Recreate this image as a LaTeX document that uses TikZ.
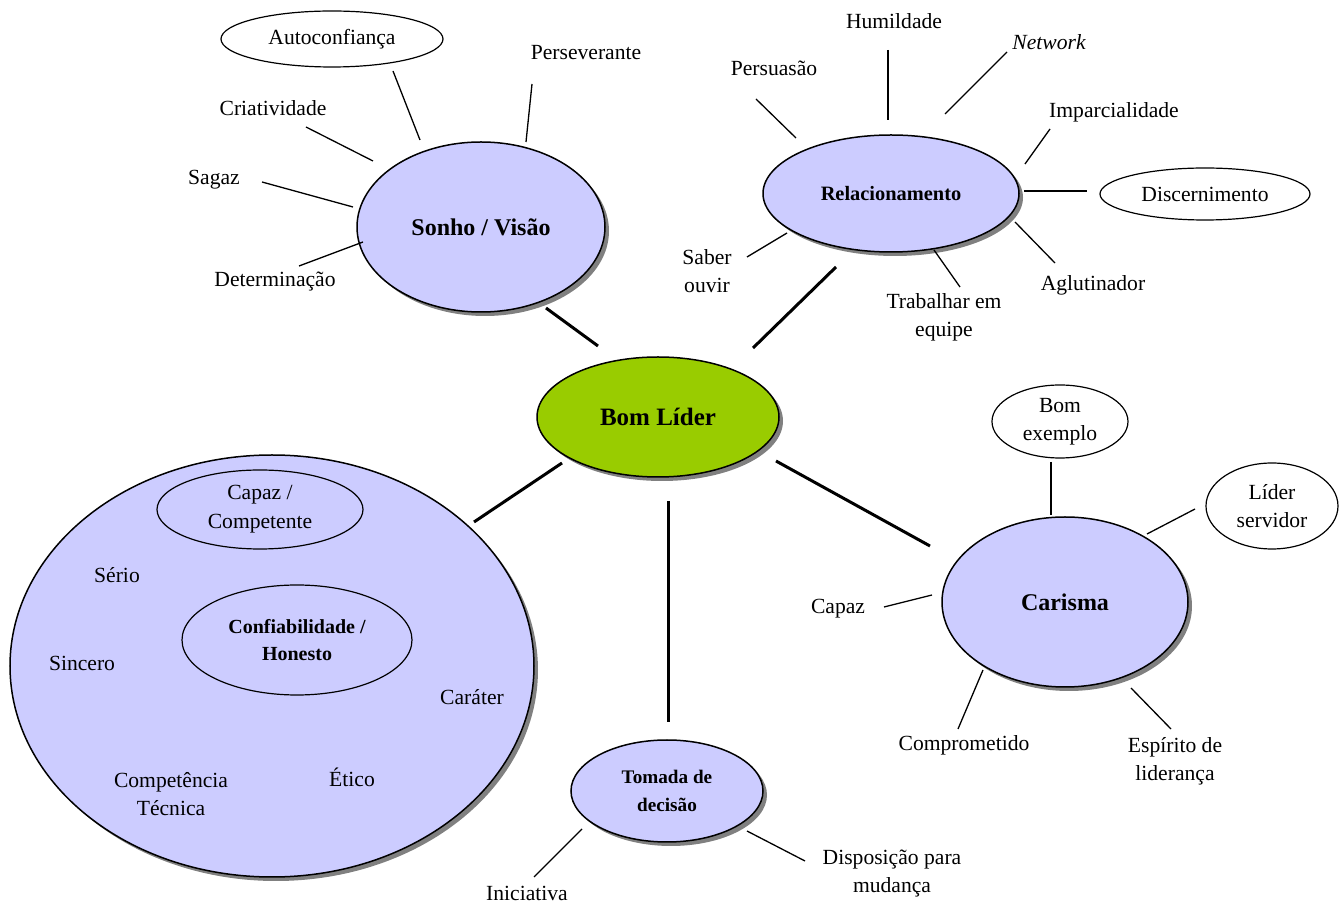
\documentclass[tikz,border=0pt]{standalone}
\usepackage{fontspec}
\setmainfont{Liberation Serif}
\usetikzlibrary{shapes.geometric,shadows}
\definecolor{lav}{HTML}{CCCCFF}
\definecolor{bomgreen}{HTML}{99CC00}
\begin{document}
\begin{tikzpicture}[x=0.5pt,y=-0.5pt,
  mainell/.style={ellipse, draw=black, line width=0.75pt, fill=lav, inner sep=0pt, align=center,
    drop shadow={shadow xshift=2pt, shadow yshift=-2pt, fill=black!50, opacity=1}},
  subell/.style={ellipse, draw=black, line width=0.6pt, fill=white, inner sep=0pt, align=center,
    font=\fontsize{10.8}{14}\selectfont},
  innerell/.style={ellipse, draw=black, line width=0.6pt, fill=lav, inner sep=0pt, align=center},
  lbl/.style={inner sep=0pt, align=center, font=\fontsize{10.8}{14}\selectfont},
  twig/.style={line width=0.65pt},
  limb/.style={line width=1.5pt},
]
\useasboundingbox (0,0) rectangle (1341,903);

% main ellipses
\node[mainell, fill=bomgreen, minimum width=121pt, minimum height=60pt,
  font=\fontsize{12.5}{15}\selectfont\bfseries] (bom) at (658,417) {Bom Líder};
\node[mainell, minimum width=124pt, minimum height=85pt,
  font=\fontsize{12}{15}\selectfont\bfseries] (sonho) at (481,227) {Sonho / Visão};
\node[mainell, minimum width=128pt, minimum height=58.5pt,
  font=\fontsize{10.2}{14}\selectfont\bfseries] (rel) at (891,193.5) {Relacionamento};
\node[mainell, minimum width=123pt, minimum height=85pt,
  font=\fontsize{12}{15}\selectfont\bfseries] (car) at (1065,602) {Carisma};
\node[mainell, minimum width=96pt, minimum height=51pt,
  font=\fontsize{9.6}{14}\selectfont\bfseries] (tom) at (667,791) {Tomada de\\decisão};
\node[mainell, minimum width=262pt, minimum height=211pt] (big) at (272,666) {};

% inner ellipses of the big one
\node[innerell, minimum width=103pt, minimum height=39.5pt,
  font=\fontsize{10.8}{14.5}\selectfont] (cap) at (260,509.5) {Capaz /\\Competente};
\node[innerell, minimum width=115pt, minimum height=55pt,
  font=\fontsize{10}{13.5}\selectfont\bfseries] (conf) at (297,640) {Confiabilidade /\\Honesto};
\node[lbl] (serio) at (117,575) {Sério};
\node[lbl] (sincero) at (82,663) {Sincero};
\node[lbl] (carater) at (472,697) {Caráter};
\node[lbl] (comptec) at (171,794) {Competência\\Técnica};
\node[lbl] (etico) at (352,777) {Ético};

% white ellipses
\node[subell, minimum width=111pt, minimum height=28pt] (auto) at (332,39) {Autoconfiança};
\node[subell, minimum width=105pt, minimum height=26pt] (disc) at (1205,194) {Discernimento};
\node[subell, minimum width=68pt, minimum height=36.5pt] (bomex) at (1060,421.5) {Bom\\exemplo};
\node[subell, minimum width=66pt, minimum height=43pt] (lider) at (1272,506) {Líder\\servidor};

% labels
\node[lbl] (persev) at (586,53) {Perseverante};
\node[lbl] (criat) at (273,108) {Criatividade};
\node[lbl] (sagaz) at (214,180) {Sagaz};
\node[lbl] (determ) at (275,282) {Determinação};
\node[lbl] (humil) at (894,21) {Humildade};
\node[lbl] (netw) at (1049,42) {\itshape Network};
\node[lbl] (persua) at (774,68) {Persuasão};
\node[lbl] (impar) at (1114,112) {Imparcialidade};
\node[lbl] (aglut) at (1093,285) {Aglutinador};
\node[lbl] (trab) at (944,317.5) {Trabalhar em\\equipe};
\node[lbl] (saber) at (707,271.5) {Saber\\ouvir};
\node[lbl] (capaz) at (838,609) {Capaz};
\node[lbl] (compr) at (964,745) {Comprometido};
\node[lbl] (espir) at (1175,761.5) {Espírito de\\liderança};
\node[lbl] (inic) at (527,893) {Iniciativa};
\node[lbl] (dispo) at (892,874) {Disposição para\\mudança};

% connector end points
\coordinate (sbA) at (546,308); \coordinate (sbB) at (598,346);
\coordinate (rbA) at (836,267); \coordinate (rbB) at (753,348);
\coordinate (bgA) at (562,463); \coordinate (bgB) at (474,522);
\coordinate (btA) at (668,501); \coordinate (btB) at (668,722);
\coordinate (bcA) at (776,461); \coordinate (bcB) at (930,546);

\coordinate (autoA) at (393,71);  \coordinate (autoB) at (420,140);
\coordinate (persA) at (532,84);  \coordinate (persB) at (526,142);
\coordinate (criaA) at (306,127); \coordinate (criaB) at (373,161);
\coordinate (sagA) at (262,182);  \coordinate (sagB) at (353,207);
\coordinate (detA) at (299,266);  \coordinate (detB) at (363,242);

\coordinate (humA) at (888,50);   \coordinate (humB) at (888,120);
\coordinate (netA) at (1007,52);  \coordinate (netB) at (945,114);
\coordinate (psuA) at (756,99);   \coordinate (psuB) at (796,138);
\coordinate (impA) at (1050,129); \coordinate (impB) at (1025,164);
\coordinate (disA) at (1024,191); \coordinate (disB) at (1087,191);
\coordinate (aglA) at (1015,222); \coordinate (aglB) at (1055,263);
\coordinate (trbA) at (934,250);  \coordinate (trbB) at (960,287);
\coordinate (sabA) at (787,233);  \coordinate (sabB) at (747,257);

\coordinate (bexA) at (1051,462); \coordinate (bexB) at (1051,515);
\coordinate (lidA) at (1195,509); \coordinate (lidB) at (1147,534);
\coordinate (capA) at (884,607);  \coordinate (capB) at (932,595);
\coordinate (cmpA) at (983,670);  \coordinate (cmpB) at (958,729);
\coordinate (espA) at (1131,688); \coordinate (espB) at (1171,729);

\coordinate (iniA) at (582,829);  \coordinate (iniB) at (534,877);
\coordinate (dspA) at (747,831);  \coordinate (dspB) at (805,861);

% thick connectors
\draw[limb] (sbA) -- (sbB);
\draw[limb] (rbA) -- (rbB);
\draw[limb] (bgA) -- (bgB);
\draw[limb] (btA) -- (btB);
\draw[limb] (bcA) -- (bcB);

% thin connectors
\foreach \a/\b in {autoA/autoB, persA/persB, criaA/criaB, sagA/sagB, detA/detB,
  humA/humB, netA/netB, psuA/psuB, impA/impB, disA/disB, aglA/aglB, trbA/trbB, sabA/sabB,
  bexA/bexB, lidA/lidB, capA/capB, cmpA/cmpB, espA/espB, iniA/iniB, dspA/dspB}
  \draw[twig] (\a) -- (\b);
\end{tikzpicture}
\end{document}
